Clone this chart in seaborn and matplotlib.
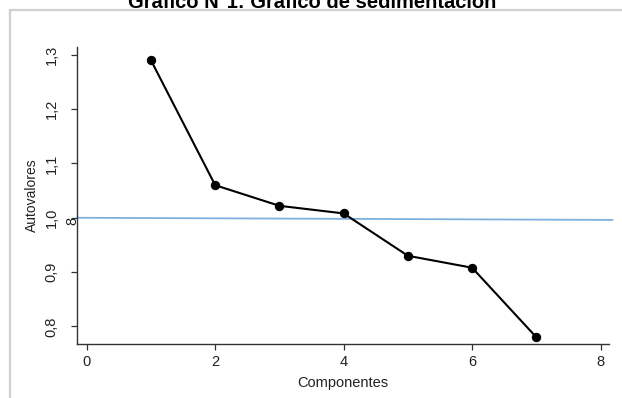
import seaborn as sns
import numpy as np
import pandas as pd
import matplotlib.pyplot as plt
from matplotlib.lines import Line2D

# datos del grafico de sedimentacion
componentes = [1, 2, 3, 4, 5, 6, 7]
autovalores = [1.29, 1.06, 1.022, 1.008, 0.930, 0.908, 0.780]
kaiser_x = [-0.15, 8.19]
kaiser_y = [1.0, 0.996]
x_ticks = [0, 2, 4, 6, 8]
y_ticks = [0.8, 0.9, 1.0, 1.1, 1.2, 1.3]
y_tick_labels = ['0,8', '0,9', '1,0', '1,1', '1,2', '1,3']
titulo = 'Gráfico N°1: Gráfico de sedimentación'

if __name__ == '__main__':
    data = pd.DataFrame({'Componentes': componentes, 'Autovalores': autovalores})

    sns.set_style('ticks')
    plt.rcParams['font.family'] = ['Liberation Sans', 'DejaVu Sans']

    fig = plt.figure(figsize=(6.22, 3.98), dpi=100)
    ax = fig.add_axes([0.1233, 0.1349, 0.979 - 0.1233, 0.8827 - 0.1349])

    # linea de referencia (criterio de Kaiser)
    ax.plot(kaiser_x, kaiser_y, color='#7eb1de', linewidth=1.3, clip_on=False, zorder=1)

    sns.lineplot(data=data, x='Componentes', y='Autovalores', ax=ax, color='black',
                 linewidth=1.5, marker='o', markersize=6, markeredgecolor='black', zorder=3)

    ax.set_xlim(-0.156, 8.13)
    ax.set_ylim(0.767, 1.315)
    ax.set_xticks(x_ticks)
    ax.set_yticks(y_ticks)
    ax.set_yticklabels(y_tick_labels, rotation=90, va='center')
    sns.despine(ax=ax)
    for s in ['left', 'bottom']:
        ax.spines[s].set_color('#333333')
        ax.spines[s].set_linewidth(1.0)
    ax.tick_params(axis='both', length=4.5, width=0.9, color='#333333',
                   labelsize=10.5, labelcolor='#222222')
    ax.tick_params(axis='y', pad=8.5)
    ax.tick_params(axis='x', pad=3)
    ax.set_xlabel('Componentes', fontsize=10.5, color='#222222', labelpad=5)
    ax.set_ylabel('Autovalores', fontsize=10, color='#222222', labelpad=4)

    # el "8" que se superpone al eje
    ax.text(-0.23, 0.995, '8', rotation=90, fontsize=10.5, color='#222222',
            ha='center', va='center', clip_on=False)

    # marco gris y titulo cortado
    fig.add_artist(Line2D([10 / 622, 1], [1 - 10 / 398, 1 - 10 / 398],
                          transform=fig.transFigure, color='#d0d0d0', linewidth=1.6))
    fig.add_artist(Line2D([10 / 622, 10 / 622], [0, 1 - 10 / 398],
                          transform=fig.transFigure, color='#d0d0d0', linewidth=1.6))
    fig.text(0.502, 1 - 8 / 398, titulo, ha='center', va='baseline',
             fontsize=14.5, fontweight='bold', color='black')

    plt.savefig('out.png', dpi=100)
    plt.close('all')
